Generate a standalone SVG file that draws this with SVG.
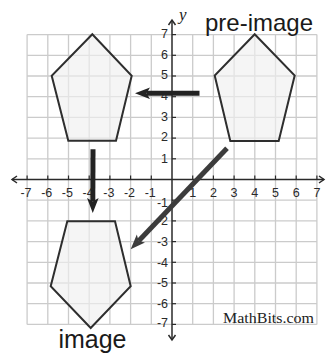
<svg xmlns="http://www.w3.org/2000/svg" width="334" height="354" viewBox="0 0 334 354">
  <style>
    .grid line { stroke: #cbcbcb; stroke-width: 1.3; }
    .axis { stroke: #2a2a2a; stroke-width: 1.5; fill: none; }
    .tick { stroke: #2a2a2a; stroke-width: 1.2; }
    .num { font-family: "Liberation Sans", Arial, sans-serif; font-size: 12.5px; fill: #2a2a2a; }
    .xnum { text-anchor: middle; }
    .ynum { text-anchor: end; }
    .pent { fill: #f0f0f0; fill-opacity: 0.65; stroke: #2e2e2e; stroke-width: 2; stroke-linejoin: miter; }
    .label { font-family: "Liberation Sans", Arial, sans-serif; fill: #1a1a1a; }
    .arrow { stroke-width: 5; fill: none; stroke-linecap: butt; }
  </style>
  <defs>
    <marker id="headDark" viewBox="0 -6 15 12" markerWidth="15" markerHeight="12" refX="3.5" refY="0" orient="auto" markerUnits="userSpaceOnUse">
      <path d="M15,0 L0,-5.8 L3.5,0 L0,5.8 Z" fill="#222"/>
    </marker>
    <marker id="headGray" viewBox="0 -6 15 12" markerWidth="15" markerHeight="12" refX="3.5" refY="0" orient="auto" markerUnits="userSpaceOnUse">
      <path d="M15,0 L0,-5.8 L3.5,0 L0,5.8 Z" fill="#3c3c3c"/>
    </marker>
  </defs>
  <rect width="334" height="354" fill="#ffffff"/>

  <g id="grid" class="grid">
    <line x1="27.1" y1="34.6" x2="27.1" y2="324.4"/>
    <line x1="47.8" y1="34.6" x2="47.8" y2="324.4"/>
    <line x1="68.5" y1="34.6" x2="68.5" y2="324.4"/>
    <line x1="89.2" y1="34.6" x2="89.2" y2="324.4"/>
    <line x1="109.9" y1="34.6" x2="109.9" y2="324.4"/>
    <line x1="130.6" y1="34.6" x2="130.6" y2="324.4"/>
    <line x1="151.3" y1="34.6" x2="151.3" y2="324.4"/>
    <line x1="192.7" y1="34.6" x2="192.7" y2="324.4"/>
    <line x1="213.4" y1="34.6" x2="213.4" y2="324.4"/>
    <line x1="234.1" y1="34.6" x2="234.1" y2="324.4"/>
    <line x1="254.8" y1="34.6" x2="254.8" y2="324.4"/>
    <line x1="275.5" y1="34.6" x2="275.5" y2="324.4"/>
    <line x1="296.2" y1="34.6" x2="296.2" y2="324.4"/>
    <line x1="316.9" y1="34.6" x2="316.9" y2="324.4"/>
    <line x1="27.1" y1="34.6" x2="316.9" y2="34.6"/>
    <line x1="27.1" y1="55.3" x2="316.9" y2="55.3"/>
    <line x1="27.1" y1="76" x2="316.9" y2="76"/>
    <line x1="27.1" y1="96.7" x2="316.9" y2="96.7"/>
    <line x1="27.1" y1="117.4" x2="316.9" y2="117.4"/>
    <line x1="27.1" y1="138.1" x2="316.9" y2="138.1"/>
    <line x1="27.1" y1="158.8" x2="316.9" y2="158.8"/>
    <line x1="27.1" y1="200.2" x2="316.9" y2="200.2"/>
    <line x1="27.1" y1="220.9" x2="316.9" y2="220.9"/>
    <line x1="27.1" y1="241.6" x2="316.9" y2="241.6"/>
    <line x1="27.1" y1="262.3" x2="316.9" y2="262.3"/>
    <line x1="27.1" y1="283" x2="316.9" y2="283"/>
    <line x1="27.1" y1="303.7" x2="316.9" y2="303.7"/>
    <line x1="27.1" y1="324.4" x2="316.9" y2="324.4"/>
  </g>

  <g id="axes">
    <line class="axis" x1="12" y1="179.5" x2="324" y2="179.5"/>
    <line class="axis" x1="172" y1="20" x2="172" y2="340"/>
    <path class="axis" d="M17,176 L12,179.5 L17,183"/>
    <path class="axis" d="M319,176 L324,179.5 L319,183"/>
    <path class="axis" d="M168.5,25 L172,20 L175.5,25"/>
    <path class="axis" d="M168.5,335 L172,340 L175.5,335"/>
    <g class="tick">
      <line x1="27.1" y1="175.5" x2="27.1" y2="179.5"/>
      <line x1="47.8" y1="175.5" x2="47.8" y2="179.5"/>
      <line x1="68.5" y1="175.5" x2="68.5" y2="179.5"/>
      <line x1="89.2" y1="175.5" x2="89.2" y2="179.5"/>
      <line x1="109.9" y1="175.5" x2="109.9" y2="179.5"/>
      <line x1="130.6" y1="175.5" x2="130.6" y2="179.5"/>
      <line x1="151.3" y1="175.5" x2="151.3" y2="179.5"/>
      <line x1="192.7" y1="175.5" x2="192.7" y2="179.5"/>
      <line x1="213.4" y1="175.5" x2="213.4" y2="179.5"/>
      <line x1="234.1" y1="175.5" x2="234.1" y2="179.5"/>
      <line x1="254.8" y1="175.5" x2="254.8" y2="179.5"/>
      <line x1="275.5" y1="175.5" x2="275.5" y2="179.5"/>
      <line x1="296.2" y1="175.5" x2="296.2" y2="179.5"/>
      <line x1="316.9" y1="175.5" x2="316.9" y2="179.5"/>
      <line x1="172" y1="34.6" x2="176" y2="34.6"/>
      <line x1="172" y1="55.3" x2="176" y2="55.3"/>
      <line x1="172" y1="76" x2="176" y2="76"/>
      <line x1="172" y1="96.7" x2="176" y2="96.7"/>
      <line x1="172" y1="117.4" x2="176" y2="117.4"/>
      <line x1="172" y1="138.1" x2="176" y2="138.1"/>
      <line x1="172" y1="158.8" x2="176" y2="158.8"/>
      <line x1="172" y1="200.2" x2="176" y2="200.2"/>
      <line x1="172" y1="220.9" x2="176" y2="220.9"/>
      <line x1="172" y1="241.6" x2="176" y2="241.6"/>
      <line x1="172" y1="262.3" x2="176" y2="262.3"/>
      <line x1="172" y1="283" x2="176" y2="283"/>
      <line x1="172" y1="303.7" x2="176" y2="303.7"/>
      <line x1="172" y1="324.4" x2="176" y2="324.4"/>
    </g>
    <g class="num xnum">
      <text x="26" y="196.5">-7</text>
      <text x="46.7" y="196.5">-6</text>
      <text x="67.4" y="196.5">-5</text>
      <text x="88.1" y="196.5">-4</text>
      <text x="108.8" y="196.5">-3</text>
      <text x="129.5" y="196.5">-2</text>
      <text x="150.2" y="196.5">-1</text>
      <text x="192.7" y="196.5">1</text>
      <text x="213.4" y="196.5">2</text>
      <text x="234.1" y="196.5">3</text>
      <text x="254.8" y="196.5">4</text>
      <text x="275.5" y="196.5">5</text>
      <text x="296.2" y="196.5">6</text>
      <text x="316.9" y="196.5">7</text>
    </g>
    <g class="num ynum">
      <text x="168" y="37.8">7</text>
      <text x="168" y="58.5">6</text>
      <text x="168" y="79.2">5</text>
      <text x="168" y="99.9">4</text>
      <text x="168" y="120.6">3</text>
      <text x="168" y="141.3">2</text>
      <text x="168" y="163">1</text>
      <text x="168" y="206.5">-1</text>
      <text x="168" y="225.2">-2</text>
      <text x="168" y="245.8">-3</text>
      <text x="168" y="266.5">-4</text>
      <text x="168" y="287.2">-5</text>
      <text x="168" y="307.9">-6</text>
      <text x="168" y="327.2">-7</text>
    </g>
    <text x="179" y="20" font-family="'Liberation Serif', 'Times New Roman', serif" font-style="italic" font-size="17" fill="#222">y</text>
  </g>

  <g id="pentagon-preimage">
    <polygon class="pent" points="254.7,34.3 294.7,75.5 278.7,141 230.3,141 214.7,75.5"/>
  </g>
  <g id="pentagon-translated">
    <polygon class="pent" points="92.3,34.3 131.7,75.7 116,140.7 68.3,140.7 51.7,75.7"/>
  </g>
  <g id="pentagon-image">
    <polygon class="pent" points="67.3,221.3 115,221.3 130.7,286.3 90.7,328 50.7,286.3"/>
  </g>

  <g id="connectors">
    <line class="arrow" x1="199.5" y1="93.3" x2="146.5" y2="93.3" stroke="#222" marker-end="url(#headDark)"/>
    <line class="arrow" x1="93" y1="149.3" x2="92.8" y2="201.5" stroke="#222" marker-end="url(#headDark)"/>
    <line class="arrow" x1="227" y1="148.3" x2="138.6" y2="241" stroke="#3c3c3c" marker-end="url(#headGray)"/>
  </g>

  <g id="labels">
    <text class="label" x="205" y="31" font-size="24" textLength="108" lengthAdjust="spacingAndGlyphs">pre-image</text>
    <text class="label" x="58.5" y="348" font-size="25" textLength="68" lengthAdjust="spacingAndGlyphs">image</text>
    <text x="223" y="323" font-family="'Liberation Serif', 'Times New Roman', serif" font-size="15.5" fill="#222" textLength="91" lengthAdjust="spacingAndGlyphs">MathBits.com</text>
  </g>
</svg>
